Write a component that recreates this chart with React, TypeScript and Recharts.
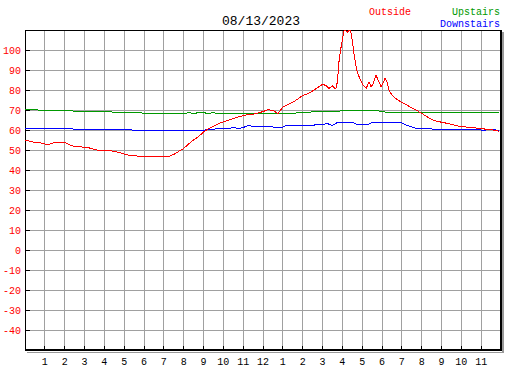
import React from 'react';
import { LineChart, Line, XAxis, YAxis, CartesianGrid, ReferenceArea } from 'recharts';

const CHART_DATE = '08/13/2023';
const MONO = '"Liberation Mono", "DejaVu Sans Mono", monospace';

const hourTicks = [1, 2, 3, 4, 5, 6, 7, 8, 9, 10, 11, 12, 13, 14, 15, 16, 17, 18, 19, 20, 21, 22, 23];
const hourLabels = ['1', '2', '3', '4', '5', '6', '7', '8', '9', '10', '11', '12', '1', '2', '3', '4', '5', '6', '7', '8', '9', '10', '11'];
const tempTicks = [-40, -30, -20, -10, 0, 10, 20, 30, 40, 50, 60, 70, 80, 90, 100];

const SERIES = [
  { key: 'outside', name: 'Outside', color: '#ff0000' },
  { key: 'up', name: 'Upstairs', color: '#009900' },
  { key: 'down', name: 'Downstairs', color: '#0000ff' },
];

// outside readings (hour of day, deg F)
const outsideHours = [
  0, 0.25, 0.5, 0.75, 1, 1.25, 1.5, 1.75, 2, 2.25, 2.5, 2.75, 3, 3.25, 3.5, 3.75,
  4, 4.25, 4.5, 4.75, 5, 5.25, 5.5, 5.75, 6, 6.25, 6.5, 6.75, 7, 7.25, 7.5, 7.75,
  8, 8.25, 8.5, 8.75, 9, 9.25, 9.5, 9.75, 10, 10.25, 10.5, 10.75, 11, 11.25, 11.5, 11.75,
  12, 12.25, 12.5, 12.75, 13, 13.25, 13.5, 13.75, 14, 14.25, 14.5, 14.75,
  15, 15.17, 15.33, 15.5, 15.67, 15.75, 15.83, 15.92, 16, 16.1, 16.25, 16.4, 16.5, 16.6, 16.75, 16.9,
  17.05, 17.2, 17.35, 17.45, 17.55, 17.7, 17.8, 17.95, 18.05, 18.15, 18.25, 18.35, 18.5, 18.75,
  19, 19.25, 19.5, 19.75, 20, 20.25, 20.5, 20.75, 21, 21.25, 21.5, 21.75,
  22, 22.25, 22.5, 22.75, 23, 23.25, 23.5, 23.75, 23.9,
];
const outsideTemps = [
  55, 54.3, 53.8, 53.6, 53, 53, 53.8, 53.5, 53.8, 52.5, 51.8, 51.7, 51.3, 51, 50.3, 49.8,
  49.8, 49.8, 49.3, 48.8, 48, 47.3, 47.3, 46.8, 46.7, 46.6, 46.7, 46.7, 46.7, 46.8, 47.8, 49.3,
  50.8, 53, 55, 56.7, 59, 60.7, 61.8, 63.2, 64, 64.9, 65.7, 66.5, 67.2, 67.8, 67.9, 68.5,
  69.2, 70.2, 69.8, 68.2, 71.5, 72.8, 73.8, 75.5, 77.2, 78.2, 79.5, 81.2,
  82.8, 82.3, 80.8, 82, 80.5, 84, 94, 100.5, 105, 110.5, 108.8, 110.5, 105, 97, 89, 85.3,
  82.5, 80.8, 84, 81.6, 83, 87.5, 85, 81.7, 83.3, 85.8, 84, 80, 77.5, 75.3,
  73.8, 72.5, 71, 69.8, 68.3, 66.8, 65.3, 64.4, 63.9, 63.4, 62.8, 62.2,
  61.7, 61.5, 61.2, 61, 60.7, 60.4, 60.1, 59.8, 59.3,
];

// indoor readings every 15 minutes
const indoorHours = [...Array(96).keys()].map((i) => i / 4).concat(23.9);
const upstairsTemps = [
  70.3, 70.3, 70.3, 69.8, 69.8, 69.8, 69.8, 69.8, 69.8, 69.8, 69.3, 69.3,
  69.3, 69.3, 69.3, 69.3, 69.3, 69.3, 68.8, 68.8, 68.8, 68.8, 68.8, 68.8,
  68.3, 68.3, 68.2, 68.2, 68.2, 68.2, 68.2, 68.2, 68.2, 68.7, 68.2, 68.7,
  68.7, 68.2, 68.7, 68.2, 68.2, 68.2, 68.2, 68.2, 68.2, 68.2, 68.2, 68.2,
  68.2, 68.2, 68.2, 68.2, 68.2, 68.2, 68.2, 68.7, 68.7, 68.7, 69.2, 69.2,
  69.2, 69.2, 69.2, 69.2, 69.7, 69.7, 69.7, 69.7, 69.7, 69.7, 69.7, 69.7,
  69.2, 68.9, 68.9, 68.9, 68.9, 68.9, 68.9, 68.9, 68.9, 68.9, 68.9, 68.9,
  68.9, 68.9, 68.9, 68.9, 68.9, 68.9, 68.9, 68.9, 68.9, 68.9, 68.9, 68.9,
  68.9,
];
const downstairsTemps = [
  60.8, 60.8, 60.8, 60.8, 60.8, 60.8, 60.8, 60.8, 60.8, 60.8, 60.3, 60.3,
  60.3, 60.3, 60.3, 60.3, 60.3, 60.3, 60.3, 60.3, 60.3, 60.3, 59.8, 59.8,
  59.8, 59.8, 59.8, 59.8, 59.8, 59.8, 59.8, 59.8, 59.8, 59.8, 59.8, 59.8,
  59.8, 60.3, 60.3, 60.8, 60.8, 60.8, 61.2, 60.8, 61.2, 62.3, 61.8, 61.8,
  61.8, 62.0, 61.5, 61.5, 61.5, 62.5, 62.2, 62.2, 62.5, 62.2, 62.3, 62.8,
  62.8, 63.2, 62.2, 63.8, 63.8, 63.8, 63.8, 62.8, 63.0, 62.5, 63.8, 63.8,
  63.7, 63.7, 63.7, 63.7, 63.5, 62.3, 61.5, 60.8, 60.8, 60.8, 60.5, 60.3,
  60.3, 60.3, 60.3, 60.3, 60.3, 60.3, 60.3, 60.3, 60.0, 60.0, 60.3, 60.0,
  59.8,
];

const outsideData = outsideHours.map((h, i) => ({ h, outside: outsideTemps[i] }));
const indoorData = indoorHours.map((h, i) => ({ h, up: upstairsTemps[i], down: downstairsTemps[i] }));

const YTick = ({ x, y, payload }: any) => (
  <g>
    <line x1={x + 4} x2={x + 9} y1={y} y2={y} stroke="#000" />
    <text x={x} y={y + 4} textAnchor="end" fill="#ff0000" fontSize={10} fontFamily={MONO}>
      {payload.value}
    </text>
  </g>
);

const XTick = ({ x, y, payload }: any) => (
  <g>
    <line x1={x} x2={x} y1={y - 4} y2={y} stroke="#000" />
    <text x={x} y={y + 15} textAnchor="middle" fill="#000" fontSize={10} fontFamily={MONO}>
      {hourLabels[payload.value - 1]}
    </text>
  </g>
);

// plot frame: thin top/left, heavy right/bottom with a grey drop shadow
const Frame = ({ x, y, width, height }: any) => {
  const r = x + width;
  const b = y + height;
  return (
    <g fill="none">
      <line x1={x + 2} x2={r + 3} y1={b + 2} y2={b + 2} stroke="#999" strokeWidth={1} />
      <line x1={r + 2} x2={r + 2} y1={y + 2} y2={b + 2} stroke="#999" strokeWidth={2} />
      <line x1={x} x2={r} y1={y} y2={y} stroke="#000" strokeWidth={1} />
      <line x1={x} x2={x} y1={y} y2={b} stroke="#000" strokeWidth={1} />
      <line x1={r} x2={r} y1={y} y2={b + 1} stroke="#000" strokeWidth={2} />
      <line x1={x} x2={r} y1={b} y2={b} stroke="#000" strokeWidth={2} />
    </g>
  );
};

export default function App() {
  return (
    <div style={{ position: 'absolute', left: 0, top: 0, width: 527, height: 370, background: '#fff' }}>
      <style>{'.recharts-surface line, .recharts-surface path { shape-rendering: crispEdges; }'}</style>
      <LineChart width={527} height={370} margin={{ top: 30, right: 26, bottom: 0, left: 0 }}>
        <CartesianGrid stroke="#a0a0a0" />
        <XAxis
          dataKey="h"
          type="number"
          domain={[0, 24]}
          ticks={hourTicks}
          interval={0}
          height={20}
          tickSize={0}
          tickMargin={0}
          axisLine={false}
          tick={<XTick />}
        />
        <YAxis
          type="number"
          domain={[-50, 110]}
          ticks={tempTicks}
          interval={0}
          allowDataOverflow
          width={25}
          tickSize={4}
          tickMargin={0}
          tickLine={false}
          axisLine={false}
          tick={<YTick />}
        />
        <Line data={indoorData} dataKey="up" name={SERIES[1].name} stroke={SERIES[1].color} dot={false} strokeWidth={1} isAnimationActive={false} />
        <Line data={indoorData} dataKey="down" name={SERIES[2].name} stroke={SERIES[2].color} dot={false} strokeWidth={1} isAnimationActive={false} />
        <Line data={outsideData} dataKey="outside" name={SERIES[0].name} stroke={SERIES[0].color} dot={false} strokeWidth={1} isAnimationActive={false} />
        <ReferenceArea x1={0} x2={24} y1={-50} y2={110} ifOverflow="visible" shape={Frame} />
      </LineChart>
      <svg width={527} height={30} style={{ position: 'absolute', left: 0, top: 0 }}>
        <text x={261} y={25} textAnchor="middle" fontSize={13} fontFamily={MONO} fill="#000">{CHART_DATE}</text>
        <text x={411} y={15} textAnchor="end" fontSize={10} fontFamily={MONO} fill={SERIES[0].color}>{SERIES[0].name}</text>
        <text x={500} y={15} textAnchor="end" fontSize={10} fontFamily={MONO} fill={SERIES[1].color}>{SERIES[1].name}</text>
        <text x={500} y={27} textAnchor="end" fontSize={10} fontFamily={MONO} fill={SERIES[2].color}>{SERIES[2].name}</text>
      </svg>
    </div>
  );
}
